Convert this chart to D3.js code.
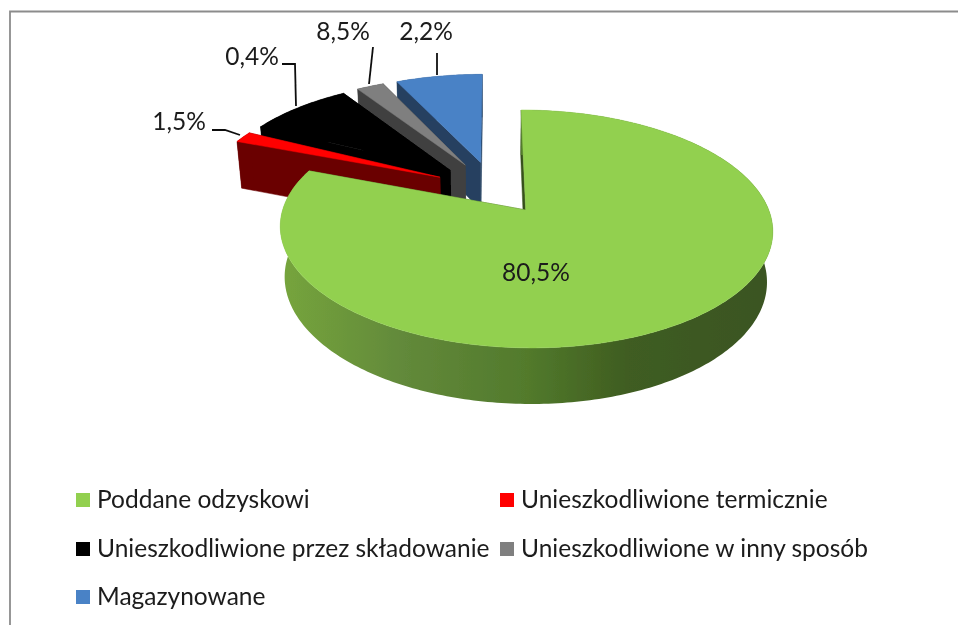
<!DOCTYPE html>
<html><head><meta charset="utf-8">
<script src="https://cdn.jsdelivr.net/npm/d3@7"></script>
<style>html,body{margin:0;background:#fff}svg{display:block}text{font-family:Lato,"Open Sans",sans-serif;fill:#1a1a1a}</style>
</head><body><svg id="c" width="958" height="625"></svg>
<script>
const categories=["Poddane odzyskowi","Unieszkodliwione termicznie","Unieszkodliwione przez składowanie","Unieszkodliwione w inny sposób","Magazynowane"];
const sliceShares=[80.8,1.6,8.4,2.2,7.0];
const sliceExplode=[0.237,0.25,0.25,0.25,0.25];
const valueLabels=["80,5%","1,5%","0,4%","8,5%","2,2%"];
const topColors=["#92d050","#ff0000","#000000","#7f7f7f","#4a82c6"];
const sideColors=["#37511c","#6b0000","#000000","#404040","#254061"];

const W=958,H=625;
const svg=d3.select("#c");
const defs=svg.append("defs");
const grad=defs.append("linearGradient").attr("id","gw").attr("gradientUnits","userSpaceOnUse").attr("x1",280).attr("x2",775).attr("y1",0).attr("y2",0);
[[0,"#76a53c"],[.25,"#62893a"],[.5,"#527a2c"],[.7,"#3f5d20"],[1,"#3a5420"]].forEach(s=>grad.append("stop").attr("offset",s[0]).attr("stop-color",s[1]));
defs.append("filter").attr("id","soft").append("feGaussianBlur").attr("stdDeviation",0.45);

const root=svg.append("g").attr("filter","url(#soft)");
root.append("path").attr("d",`M10,${H}V11.5H${W}`).attr("fill","none").attr("stroke","#8c8c8c").attr("stroke-width",1.8);

// 3D projection of the pie disc
const cx=493,cy=188,R=235.7,S=109,k=0.155,m=0.02,depth=50;
function project(x,z,t){const w=1/(1-k*z+m*t);return [cx+R*x*w, cy+S*z*w+depth*t*w];}
const line=d3.line();
const arcs=d3.pie().sort(null).value(d=>d)(sliceShares);
const offset=a=>{const mid=(a.startAngle+a.endAngle)/2,e=sliceExplode[a.index];return [e*Math.sin(mid),-e*Math.cos(mid)];};
function rim(a,t,steps){
  const [ox,oz]=offset(a);
  return d3.range(steps+1).map(i=>{const th=a.startAngle+(a.endAngle-a.startAngle)*i/steps;
    return project(ox+Math.sin(th),oz-Math.cos(th),t);});
}
const apex=(a,t)=>{const [ox,oz]=offset(a);return project(ox,oz,t);};
[4,3,2,1,0].forEach(i=>{
  const a=arcs[i],g=root.append("g");
  const n=Math.max(8,Math.round((a.endAngle-a.startAngle)*60));
  const top=rim(a,0,n),bot=rim(a,1,n);
  [[top[0],bot[0]],[top[n],bot[n]]].forEach(e=>{
    g.append("path").attr("d",line([apex(a,0),e[0],e[1],apex(a,1)])+"Z").attr("fill",sideColors[i]).attr("stroke",sideColors[i]).attr("stroke-width",.5);
  });
  g.append("path").attr("d",line(top.concat(bot.slice().reverse()))+"Z").attr("fill",i===0?"url(#gw)":sideColors[i]);
  g.append("path").attr("d",line([apex(a,0)].concat(top))+"Z").attr("fill",topColors[i]).attr("stroke",topColors[i]).attr("stroke-width",.5);
});

// leader lines and value labels
const labelLayout=[
  {tx:536,ty:281},
  {tx:179,ty:130,lead:[[212,130],[225,130],[240,135]]},
  {tx:252,ty:65,lead:[[282,64],[295,64],[296,106]]},
  {tx:343,ty:40,lead:[[373,47],[369,84]]},
  {tx:426,ty:40,lead:[[437,53],[437,75]]}
];
labelLayout.forEach((l,i)=>{
  if(l.lead) root.append("path").attr("d",line(l.lead)).attr("fill","none").attr("stroke","#111").attr("stroke-width",1.8);
  root.append("text").attr("x",l.tx).attr("y",l.ty).attr("text-anchor","middle").attr("font-size",24.5).text(valueLabels[i]);
});

// legend
const lx=[76,500,76,500,76],ly=[500,500,549,549,597];
categories.forEach((c,i)=>{
  root.append("rect").attr("x",lx[i]).attr("y",ly[i]-7).attr("width",14).attr("height",14).attr("fill",topColors[i]);
  root.append("text").attr("x",lx[i]+21).attr("y",ly[i]+8).attr("font-size",24.5).text(c);
});
</script></body></html>
